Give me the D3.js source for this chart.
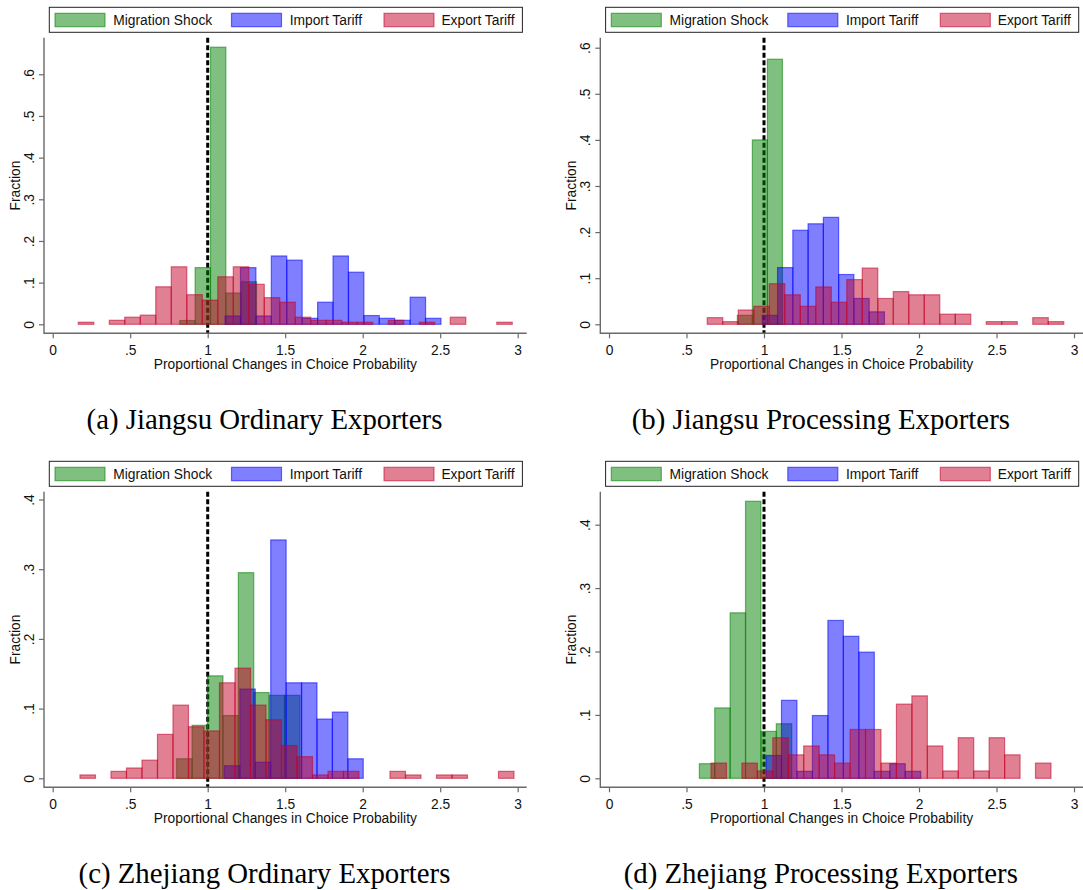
<!DOCTYPE html>
<html><head><meta charset="utf-8">
<script src="https://cdn.jsdelivr.net/npm/d3@7"></script>
<style>body{margin:0;background:#fff} svg{display:block}</style>
</head><body>
<svg id="chart" width="1083" height="890"></svg>
<script>
// ---------- data ----------
const seriesNames = ["Migration Shock", "Import Tariff", "Export Tariff"];
const panelCaptions = ["(a) Jiangsu Ordinary Exporters", "(b) Jiangsu Processing Exporters",
                       "(c) Zhejiang Ordinary Exporters", "(d) Zhejiang Processing Exporters"];
const xTicks = [0, 0.5, 1, 1.5, 2, 2.5, 3];
const yTicksJiangsu = [0, 0.1, 0.2, 0.3, 0.4, 0.5, 0.6];
const yTicksZhejiang = [0, 0.1, 0.2, 0.3, 0.4];
const referenceValue = 1;

// Panel (a): bin start / width for [migration, import, export]
const binStartA = [0.82, 1.112, 0.165];
const binWidthA = [0.099, 0.0995, 0.1];
const migrationA = [0.009, 0.136, 0.665, 0.075, 0.102];
const importA = [0.02, 0.136, 0.02, 0.164, 0.154, 0.0144, 0.053, 0.164, 0.125, 0.021, 0.0144, 0.0096, 0.065, 0.0144];
const exportA = [0.005, 0, 0.0096, 0.017, 0.022, 0.09, 0.138, 0.071, 0.058, 0.114, 0.138, 0.096, 0.064, 0.053,
                 0.017, 0.0096, 0.0096, 0.005, 0.005, 0, 0.0096, 0, 0.005, 0, 0.017, 0, 0, 0.005];

// Panel (b)
const binStartB = [0.828, 0.989, 0.634];
const binWidthB = [0.097, 0.0985, 0.1];
const migrationB = [0.0195, 0.40, 0.575];
const importB = [0.0195, 0.123, 0.204, 0.218, 0.232, 0.108, 0.056, 0.027];
const exportB = [0.0144, 0.0058, 0.031, 0.039, 0.088, 0.064, 0.039, 0.081, 0.048, 0.097, 0.122, 0.056,
                 0.071, 0.064, 0.064, 0.022, 0.022, 0, 0.0058, 0.0058, 0, 0.0144, 0.0058];

// Panel (c)
const binStartC = [0.80, 1.108, 0.176];
const binWidthC = [0.0994, 0.0995, 0.1];
const migrationC = [0.028, 0.076, 0.147, 0.09, 0.295, 0.123, 0.119, 0.119];
const importC = [0.018, 0.128, 0.023, 0.342, 0.137, 0.137, 0.085, 0.095, 0.028];
const exportC = [0.0048, 0, 0.010, 0.0148, 0.026, 0.063, 0.105, 0.074, 0.068, 0.137, 0.158, 0.105, 0.084, 0.047,
                 0.031, 0.0048, 0.01, 0.01, 0, 0, 0.01, 0.0048, 0, 0.0048, 0.0048, 0, 0, 0.01];

// Panel (d)
const binStartD = [0.583, 1.013, 0.658];
const binWidthD = [0.0993, 0.0998, 0.0997];
const migrationD = [0.023, 0.111, 0.261, 0.437, 0.074, 0.086];
const importD = [0.036, 0.123, 0.011, 0.099, 0.249, 0.224, 0.199, 0.011, 0.023, 0.011];
const exportD = [0.024, 0, 0.024, 0.0116, 0.064, 0.037, 0.051, 0.037, 0.024, 0.077, 0.077, 0.024, 0.117, 0.130,
                 0.051, 0.0116, 0.064, 0.0116, 0.064, 0.037, 0, 0.024];

// ---------- layout / style ----------
const colors = ["rgb(0,128,0)", "rgb(0,0,255)", "rgb(195,0,40)"];
const L = {axisLeft: 44, axisRight: 526.7, plotTop: 37.7, axisBottom: 333.3, zeroGap: 9,
           x0px: 52.7, x3px: 517.7};
const panels = [
  {dx: 0,     dy: 0,   yTicks: yTicksJiangsu,  perUnit: 416.7, starts: binStartA, widths: binWidthA, series: [migrationA, importA, exportA]},
  {dx: 556.3, dy: 0,   yTicks: yTicksJiangsu,  perUnit: 461.0, starts: binStartB, widths: binWidthB, series: [migrationB, importB, exportB]},
  {dx: 0,     dy: 454, yTicks: yTicksZhejiang, perUnit: 697.0, starts: binStartC, widths: binWidthC, series: [migrationC, importC, exportC]},
  {dx: 556.3, dy: 454, yTicks: yTicksZhejiang, perUnit: 634.0, starts: binStartD, widths: binWidthD, series: [migrationD, importD, exportD]}
];
const sansFont = "'Liberation Sans', Arial, Helvetica, sans-serif";
const serifFont = "'Liberation Serif', 'Times New Roman', Times, serif";
const fmt = v => v === 0 ? "0" : String(+v.toFixed(2)).replace(/^0\./, ".");

const svg = d3.select("#chart");

panels.forEach((p, pi) => {
  const g = svg.append("g").attr("transform", `translate(${p.dx},${p.dy})`);
  const zeroY = L.axisBottom - L.zeroGap;
  const x = d3.scaleLinear().domain([0, 3]).range([L.x0px, L.x3px]);
  const y = d3.scaleLinear().domain([0, 1]).range([zeroY, zeroY - p.perUnit]);

  // legend
  const lg = g.append("g");
  lg.append("rect").attr("x", 49.3).attr("y", 7.3).attr("width", 473.1).attr("height", 25)
    .attr("fill", "#fff").attr("stroke", "#222").attr("stroke-width", 1);
  const swX = [55, 231.5, 384], txX = [113.3, 289.7, 441.4];
  seriesNames.forEach((n, i) => {
    lg.append("rect").attr("x", swX[i]).attr("y", 13.3).attr("width", 50).attr("height", 13.4)
      .attr("fill", colors[i]).attr("fill-opacity", 0.5)
      .attr("stroke", colors[i]).attr("stroke-opacity", 0.55).attr("stroke-width", 1.2);
    lg.append("text").attr("x", txX[i]).attr("y", 25).text(n)
      .attr("font-family", sansFont).attr("font-size", 13.8).attr("fill", "#111");
  });

  // reference dashed line (drawn beneath bars)
  g.append("line").attr("x1", x(referenceValue)).attr("x2", x(referenceValue))
    .attr("y1", L.plotTop).attr("y2", L.axisBottom)
    .attr("stroke", "#000").attr("stroke-width", 3).attr("stroke-dasharray", "5,2.5");

  // histograms
  p.series.forEach((vals, si) => {
    const start = p.starts[si], w = p.widths[si];
    const bins = vals.map((v, i) => ({x0: start + i * w, x1: start + (i + 1) * w, v})).filter(d => d.v > 0);
    g.append("g").selectAll("rect").data(bins).join("rect")
      .attr("x", d => x(d.x0)).attr("width", d => x(d.x1) - x(d.x0))
      .attr("y", d => y(d.v)).attr("height", d => y(0) - y(d.v))
      .attr("fill", colors[si]).attr("fill-opacity", 0.5)
      .attr("stroke", colors[si]).attr("stroke-opacity", 0.55).attr("stroke-width", 1.2);
  });

  // axes
  const axisColor = "#6a6a6a";
  const xa = g.append("g").attr("transform", `translate(0,${L.axisBottom})`)
    .call(d3.axisBottom(x).tickValues(xTicks).tickSize(5).tickFormat(fmt));
  xa.select(".domain").remove();
  xa.selectAll("line").attr("stroke", axisColor).attr("stroke-width", 1.2);
  xa.selectAll("text").attr("y", 22).attr("dy", null)
    .attr("font-family", sansFont).attr("font-size", 13.8).attr("fill", "#111");

  const ya = g.append("g").attr("transform", `translate(${L.axisLeft},0)`)
    .call(d3.axisLeft(y).tickValues(p.yTicks).tickSize(5).tickFormat(fmt));
  ya.select(".domain").remove();
  ya.selectAll("line").attr("stroke", axisColor).attr("stroke-width", 1.2);
  ya.selectAll("text").attr("x", null).attr("dy", null).attr("text-anchor", "middle")
    .attr("transform", "translate(-10,0) rotate(-90)")
    .attr("font-family", sansFont).attr("font-size", 13.8).attr("fill", "#111");

  g.append("path")
    .attr("d", `M${L.axisLeft},${L.plotTop}V${L.axisBottom}H${L.axisRight}`)
    .attr("fill", "none").attr("stroke", axisColor).attr("stroke-width", 1.4);

  // axis titles
  g.append("text").attr("x", (L.axisLeft + L.axisRight) / 2).attr("y", 368.5)
    .attr("text-anchor", "middle").attr("font-family", sansFont).attr("font-size", 13.8).attr("fill", "#111")
    .text("Proportional Changes in Choice Probability");
  g.append("text").attr("transform", `translate(20,${(L.plotTop + L.axisBottom) / 2}) rotate(-90)`)
    .attr("text-anchor", "middle").attr("font-family", sansFont).attr("font-size", 13.8).attr("fill", "#111")
    .text("Fraction");

  // caption
  g.append("text").attr("x", 264.5).attr("y", 429)
    .attr("text-anchor", "middle").attr("font-family", serifFont).attr("font-size", 28.8).attr("fill", "#000")
    .text(panelCaptions[pi]);
});
</script>
</body></html>
